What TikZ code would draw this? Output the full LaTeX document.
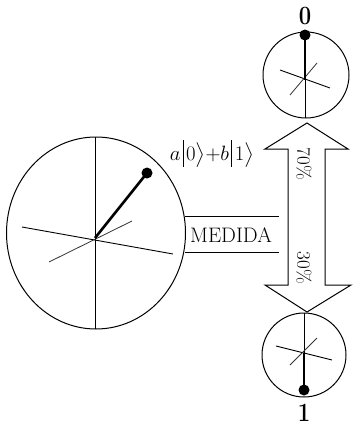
\documentclass[tikz,border=0pt]{standalone}
\usepackage{amsmath}
\newcommand{\kbar}{\mkern2mu\rule[-0.3em]{0.05em}{1.28em}\mkern2mu}
\begin{document}
\begin{tikzpicture}[x=1pt,y=-1pt,
  outl/.style={draw=black,line width=1pt},
  spoke/.style={draw=black,line width=0.9pt},
  faint/.style={draw=black!80,line width=0.8pt},
  vec/.style={draw=black,line width=2.6pt},
  dotst/.style={fill=black},
  lbl/.style={inner sep=0pt,yscale=1.2,font=\fontsize{22}{24}\selectfont\bfseries},
  pct/.style={inner sep=0pt,rotate=-90,font=\fontsize{19}{21}\selectfont}]
\useasboundingbox (0,0) rectangle (359,434);
% big Bloch sphere
\coordinate (bc) at (96,233);
\coordinate (bo) at (95,238);
\coordinate (bd) at (147,173);
\draw[outl] (bc) ellipse [x radius=89.5pt, y radius=96pt];
\draw[spoke] (95,137) -- (95,329);
\draw[spoke] (22,227) -- (173,254);
\draw[faint] (49,262) -- (132,221);
\draw[vec] (bo) -- (bd);
\fill[dotst] (bd) circle[radius=5.5pt];
% top small sphere
\coordinate (tc) at (306,75);
\coordinate (to) at (305,80);
\coordinate (td) at (305,35);
\draw[outl] (tc) circle[radius=43pt];
\draw[spoke] (to) -- (305,118);
\draw[spoke] (280,70) -- (330,88);
\draw[faint] (290,95) -- (317,63);
\draw[vec] (to) -- (td);
\fill[dotst] (td) circle[radius=5.5pt];
\node[lbl] (zero) at (305,16) {0};
% bottom small sphere
\coordinate (uc) at (304,355);
\coordinate (uo) at (304,353);
\coordinate (ud) at (304,390);
\draw[outl] (uc) circle[radius=42pt];
\draw[spoke] (304,313) -- (uo);
\draw[spoke] (276,346) -- (332,360);
\draw[faint] (290,365) -- (317,338);
\draw[vec] (uo) -- (ud);
\fill[dotst] (ud) circle[radius=5.5pt];
\node[lbl] (one) at (304,413) {1};
% double arrow
\draw[outl,line join=miter] (307,123) -- (265,149) -- (288,149) -- (288,285) -- (265,285)
  -- (307,312) -- (351,285) -- (325,285) -- (325,149) -- (348,149) -- cycle;
\node[pct] (p70) at (304,164) {70\%};
\node[pct] (p30) at (304,268) {30\%};
% measurement
\draw[outl] (185,216) -- (279,216);
\draw[outl] (185,252) -- (279,252);
\node[inner sep=0pt,font=\fontsize{21}{23}\selectfont] (med) at (231,235) {MEDIDA};
% state
\node[inner sep=0pt,font=\fontsize{21}{23}\selectfont] (st) at (212,154)
  {$a\kbar0\bigr\rangle{+}b\kbar1\bigr\rangle$};
\end{tikzpicture}
\end{document}
